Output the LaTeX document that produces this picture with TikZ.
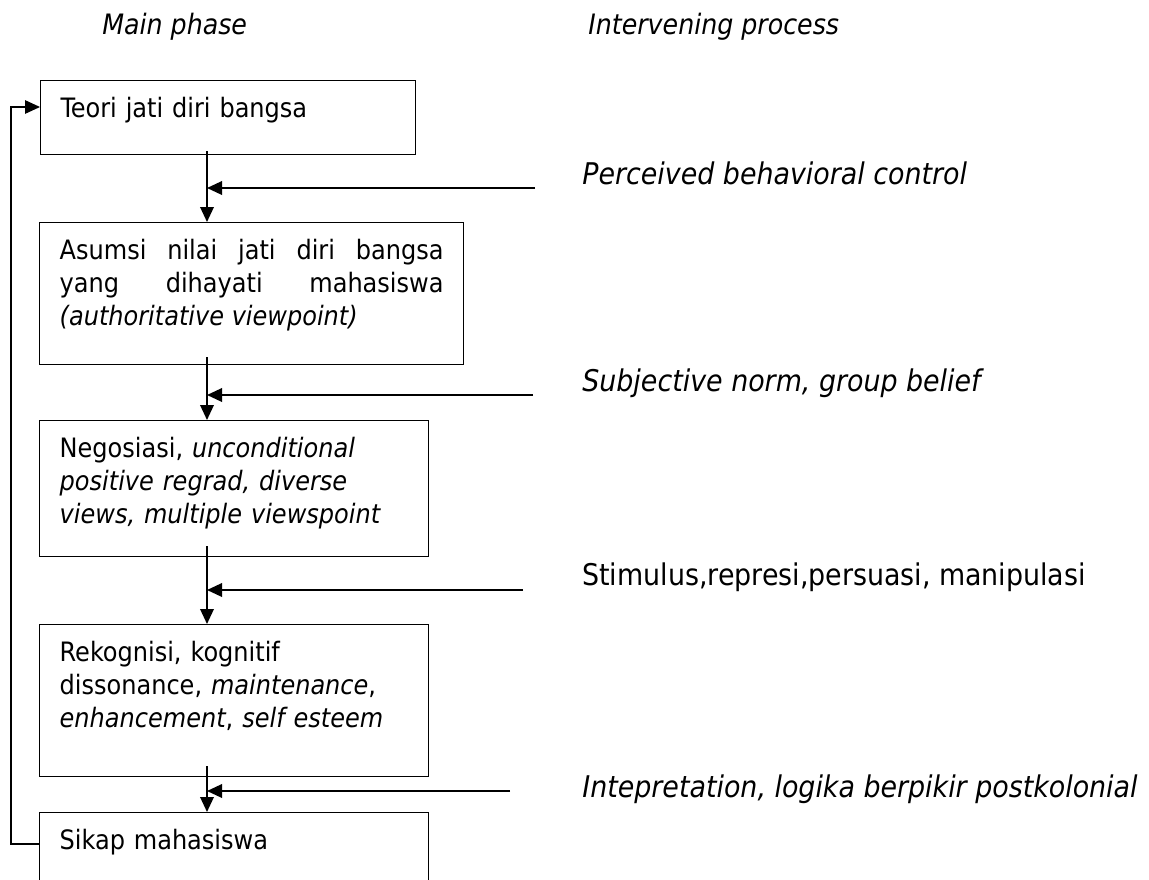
\documentclass[tikz,border=0pt]{standalone}
\usepackage{fontspec}
\setmainfont{DejaVu Sans Condensed}
\usetikzlibrary{arrows.meta,calc}

\begin{document}
\begin{tikzpicture}[x=0.02cm, y=-0.02cm,
        phase/.style={draw, line width=0.8pt, anchor=north west, align=left,
            inner xsep=0.4cm, inner ysep=0.2cm, text height=0.54cm,
            font=\fontsize{15.2}{18.7}\selectfont},
        flow/.style={line width=1.1pt, -{Triangle[length=0.3cm, width=0.27cm]}},
        factor/.style={anchor=base west, inner sep=0pt, font=\fontsize{17}{20}\selectfont},
        head/.style={anchor=base west, inner sep=0pt, font=\itshape\fontsize{16}{19}\selectfont}]
        \useasboundingbox (0,0) rectangle (1149,879);

        \node[head] (mainhead) at (102,34) {Main phase};
        \node[head] (interhead) at (588,34) {Intervening process};

        \node[phase, text width=6.7cm, text depth=0.54cm] (teori) at (40,80) {Teori jati diri bangsa};
        \node[phase, text width=7.68cm, text depth=1.9cm, align=justify] (asumsi) at (39,222)
            {Asumsi nilai jati diri bangsa\linebreak yang dihayati mahasiswa\linebreak \textit{(authoritative viewpoint)}};
        \node[phase, text width=6.98cm, text depth=1.78cm] (negosiasi) at (39,420)
            {Negosiasi, \textit{unconditional}\\ \textit{positive regrad, diverse}\\ \textit{views, multiple viewspoint}};
        \node[phase, text width=6.98cm, text depth=2.1cm] (rekognisi) at (39,624)
            {Rekognisi, kognitif\\ dissonance, \textit{maintenance},\\ \textit{enhancement}, \textit{self esteem}};
        \node[phase, text width=6.98cm, text depth=1.26cm] (sikap) at (39,812) {Sikap mahasiswa};

        \coordinate (spine) at (207,0);
        \draw[flow] ($(spine |- teori.south)+(0,-4)$) -- (spine |- asumsi.north);
        \draw[flow] ($(spine |- asumsi.south)+(0,-8)$) -- (spine |- negosiasi.north);
        \draw[flow] ($(spine |- negosiasi.south)+(0,-11)$) -- (spine |- rekognisi.north);
        \draw[flow] ($(spine |- rekognisi.south)+(0,-11)$) -- (spine |- sikap.north);

        \coordinate (pbc) at (535,188);
        \coordinate (norm) at (533,395);
        \coordinate (stim) at (523,590);
        \coordinate (interp) at (510,791);
        \draw[flow] (pbc) -- (spine |- pbc);
        \draw[flow] (norm) -- (spine |- norm);
        \draw[flow] (stim) -- (spine |- stim);
        \draw[flow] (interp) -- (spine |- interp);

        \node[factor] (pbctext) at (582,184) {\textit{Perceived behavioral control}};
        \node[factor] (normtext) at (582,391) {\textit{Subjective norm, group belief}};
        \node[factor] (stimtext) at (582,585) {Stimulus,represi,persuasi, manipulasi};
        \node[factor] (interptext) at (582,797) {\textit{Intepretation, logika berpikir postkolonial}};

        \draw[flow, line width=0.7pt] ($(sikap.north west)+(0,32)$) -| (11,107) -- ($(teori.north west)+(0,27)$);
\end{tikzpicture}
\end{document}
